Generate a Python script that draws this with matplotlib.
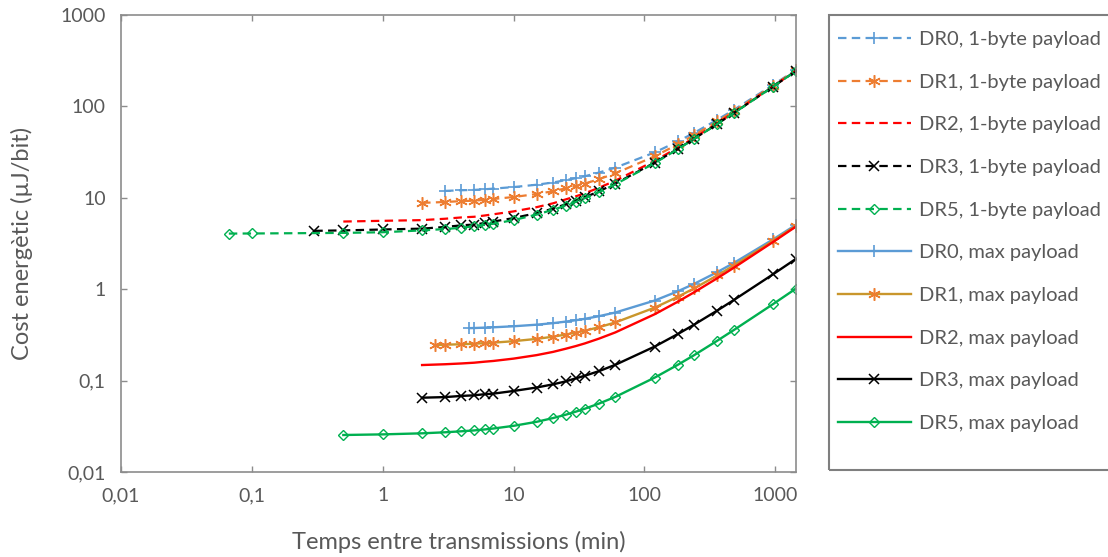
import numpy as np
import matplotlib
matplotlib.use("Agg")
import matplotlib.pyplot as plt

plt.rcParams['font.family'] = ['Lato', 'DejaVu Sans']

# temps entre transmissions (min)
t_dr0_1b = [3, 4, 5, 6, 7, 10, 15, 20, 25, 30, 35, 45, 60, 120, 180, 240, 360, 480, 960, 1440]
t_dr1_1b = [2, 3, 4, 5, 6, 7, 10, 15, 20, 25, 30, 35, 45, 60, 120, 180, 240, 360, 480, 960, 1440]
t_dr2_1b = [0.5, 1, 2, 3, 4, 5, 6, 7, 10, 15, 20, 25, 30, 35, 45, 60, 120, 180, 240, 360, 480, 960, 1440]
t_dr3_1b = [0.3, 0.5, 1, 2, 3, 4, 5, 6, 7, 10, 15, 20, 25, 30, 35, 45, 60, 120, 180, 240, 360, 480, 960, 1440]
t_dr5_1b = [0.0667, 0.1, 0.5, 1, 2, 3, 4, 5, 6, 7, 10, 15, 20, 25, 30, 35, 45, 60, 120, 180, 240, 360, 480, 960, 1440]

t_dr0_max = [4.6, 5, 6, 7, 10, 15, 20, 25, 30, 35, 45, 60, 120, 180, 240, 360, 480, 960, 1440]
t_dr1_max = [2.5, 3, 4, 5, 6, 7, 10, 15, 20, 25, 30, 35, 45, 60, 120, 180, 240, 360, 480, 960, 1440]
t_dr2_max = [2, 3, 4, 5, 6, 7, 10, 15, 20, 25, 30, 35, 45, 60, 120, 180, 240, 360, 480, 960, 1440]
t_dr3_max = [2, 3, 4, 5, 6, 7, 10, 15, 20, 25, 30, 35, 45, 60, 120, 180, 240, 360, 480, 960, 1440]
t_dr5_max = [0.5, 1, 2, 3, 4, 5, 6, 7, 10, 15, 20, 25, 30, 35, 45, 60, 120, 180, 240, 360, 480, 960, 1440]

# cost energetic (uJ/bit)
c_dr0_1b = [11.9, 12.1, 12.2, 12.4, 12.6, 13.1, 13.9, 14.7, 15.6, 16.4, 17.2, 18.9, 21.4,
            31.4, 41.4, 51.4, 71.4, 91.4, 171.4, 251.4]
c_dr1_1b = [8.8, 9.0, 9.2, 9.3, 9.5, 9.7, 10.2, 11.0, 11.8, 12.7, 13.5, 14.3, 16.0, 18.5,
            28.5, 38.5, 48.5, 68.5, 88.5, 168.5, 248.5]
c_dr2_1b = [5.5, 5.6, 5.7, 5.9, 6.1, 6.2, 6.4, 6.6, 7.1, 7.9, 8.7, 9.6, 10.4, 11.2, 12.9, 15.4,
            25.4, 35.4, 45.4, 65.4, 85.4, 165.4, 245.4]
c_dr3_1b = [4.35, 4.4, 4.5, 4.6, 4.8, 5.0, 5.1, 5.3, 5.5, 6.0, 6.8, 7.6, 8.5, 9.3, 10.1, 11.8,
            14.3, 24.3, 34.3, 44.3, 64.3, 84.3, 164.3, 244.3]
c_dr5_1b = [4.06, 4.07, 4.13, 4.2, 4.4, 4.55, 4.7, 4.9, 5.05, 5.2, 5.7, 6.55, 7.4, 8.2, 9.05,
            9.9, 11.55, 14.05, 24.05, 34.05, 44.05, 64.05, 84.05, 164.05, 244.05]

c_dr0_max = [0.375, 0.376, 0.380, 0.383, 0.393, 0.409, 0.425, 0.442, 0.458, 0.474, 0.507,
             0.556, 0.752, 0.949, 1.145, 1.537, 1.93, 3.50, 5.07]
c_dr1_max = [0.245, 0.247, 0.250, 0.253, 0.257, 0.260, 0.270, 0.286, 0.302, 0.319, 0.335,
             0.351, 0.384, 0.433, 0.629, 0.826, 1.022, 1.414, 1.81, 3.38, 4.95]
c_dr2_max = [0.148, 0.151, 0.154, 0.157, 0.161, 0.164, 0.174, 0.190, 0.206, 0.223, 0.239,
             0.255, 0.288, 0.337, 0.533, 0.730, 0.926, 1.318, 1.71, 3.28, 4.85]
c_dr3_max = [0.065, 0.066, 0.068, 0.069, 0.071, 0.072, 0.077, 0.084, 0.091, 0.098, 0.106,
             0.113, 0.127, 0.149, 0.236, 0.323, 0.410, 0.584, 0.758, 1.454, 2.15]
c_dr5_max = [0.0254, 0.0258, 0.0265, 0.0272, 0.0279, 0.0285, 0.0292, 0.0299, 0.0320, 0.0354,
             0.0389, 0.0423, 0.0458, 0.0492, 0.0561, 0.0664, 0.108, 0.149, 0.190, 0.273,
             0.356, 0.686, 1.017]

ticks = [0.01, 0.1, 1, 10, 100, 1000]
tick_labels = ["0,01", "0,1", "1", "10", "100", "1000"]

blue = '#5B9BD5'
orange = '#ED7D31'
gold = '#C9962C'
red = '#FF0000'
green = '#00B050'
gray = '#595959'
asterisk = (6, 2, 0)

fig = plt.figure(figsize=(11.08, 5.57), dpi=100)
ax = fig.add_axes([121 / 1108, 1 - 472 / 557, (796 - 121) / 1108, (472 - 15) / 557])

dash = (3.8, 2.4)
lw_d = 1.6
lw_s = 1.7

ax.plot(t_dr0_1b, c_dr0_1b, color=blue, lw=lw_d, dashes=dash, marker='+', ms=9, mew=1.2,
        label='DR0, 1-byte payload')
ax.plot(t_dr1_1b, c_dr1_1b, color=orange, lw=lw_d, dashes=dash, marker=asterisk, ms=9, mew=1.1,
        label='DR1, 1-byte payload')
ax.plot(t_dr2_1b, c_dr2_1b, color=red, lw=lw_d, dashes=dash,
        label='DR2, 1-byte payload')
ax.plot(t_dr3_1b, c_dr3_1b, color='black', lw=lw_d, dashes=dash, marker='x', ms=7, mew=1.1,
        label='DR3, 1-byte payload')
ax.plot(t_dr5_1b, c_dr5_1b, color=green, lw=lw_d, dashes=dash, marker='D', ms=5, mew=1.0,
        mfc='none', label='DR5, 1-byte payload')

ax.plot(t_dr0_max, c_dr0_max, color=blue, lw=lw_s, marker='+', ms=9, mew=1.2,
        label='DR0, max payload')
ax.plot(t_dr1_max, c_dr1_max, color=gold, lw=lw_s, marker=asterisk, ms=9, mew=1.1,
        mec=orange, label='DR1, max payload')
ax.plot(t_dr2_max, c_dr2_max, color=red, lw=lw_s,
        label='DR2, max payload')
ax.plot(t_dr3_max, c_dr3_max, color='black', lw=lw_s, marker='x', ms=7, mew=1.1,
        label='DR3, max payload')
ax.plot(t_dr5_max, c_dr5_max, color=green, lw=lw_s, marker='D', ms=5, mew=1.0,
        mfc='none', label='DR5, max payload')

ax.set_xscale('log')
ax.set_yscale('log')
ax.set_xlim(0.01, 1440)
ax.set_ylim(0.01, 1000)
ax.set_xticks(ticks)
ax.set_xticklabels(tick_labels)
ax.set_yticks(ticks)
ax.set_yticklabels(tick_labels)
ax.minorticks_off()
ax.tick_params(which='both', direction='in', length=4, width=1, color='#8C8C8C',
               top=True, right=True, labelsize=14, labelcolor=gray, pad=11)
for s in ax.spines.values():
    s.set_color('#8C8C8C')
    s.set_linewidth(1.2)

ax.set_xlabel('Temps entre transmissions (min)', fontsize=17, color=gray, labelpad=19)
ax.set_ylabel('Cost energètic (µJ/bit)', fontsize=17, color=gray, labelpad=20)

# legend without its own frame, box drawn separately (Excel style, taller at the bottom)
leg = fig.legend(loc='upper left', bbox_to_anchor=(838 / 1108, 1 - 31 / 557),
                 bbox_transform=fig.transFigure, borderaxespad=0, frameon=False,
                 handlelength=3.6, handletextpad=0.4, labelspacing=1.27,
                 borderpad=0.0, fontsize=14.5, numpoints=1)
for txt in leg.get_texts():
    txt.set_color(gray)
box = plt.Rectangle((829 / 1108, 1 - 470 / 557), 0.5, (470 - 15) / 557,
                    transform=fig.transFigure, fill=False, edgecolor='#7F7F7F', lw=1.5)
fig.add_artist(box)

fig.savefig('out.png', dpi=100)
